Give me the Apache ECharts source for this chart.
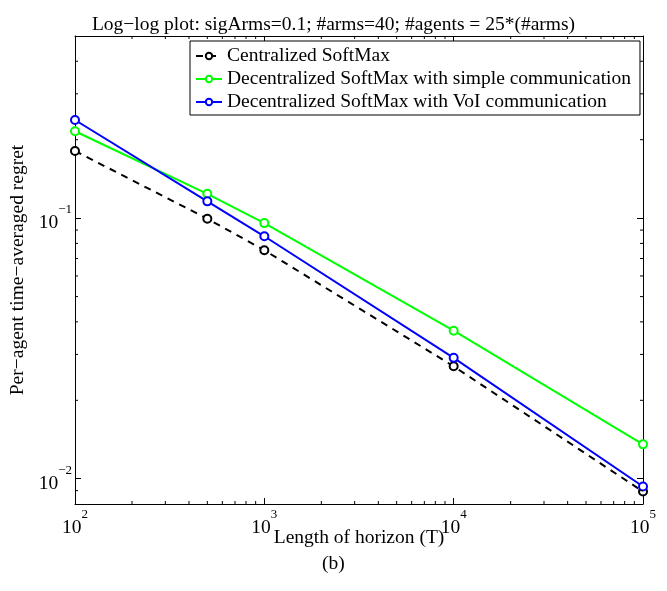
<!DOCTYPE html>
<html><head><meta charset="utf-8">
<script src="https://cdn.jsdelivr.net/npm/echarts@6/dist/echarts.min.js"></script>
<style>html,body{margin:0;padding:0;background:#fff}#c{width:667px;height:591px}</style>
</head><body><div id="c"></div>
<script>
const horizons = [100, 500, 1000, 10000, 100000];
const centralized = [0.181, 0.0995, 0.0753, 0.0270, 0.00893];
const decSimple = [0.2155, 0.124, 0.0957, 0.0370, 0.01355];
const decVoI = [0.238, 0.116, 0.0852, 0.0291, 0.00934];
const seriesNames = ['Centralized SoftMax', 'Decentralized SoftMax with simple communication', 'Decentralized SoftMax with VoI communication'];
const xMinorTicks = [200,300,400,500,600,700,800,900,2000,3000,4000,5000,6000,7000,8000,9000,20000,30000,40000,50000,60000,70000,80000,90000];
const yMinorTicks = [0.009,0.02,0.03,0.04,0.05,0.06,0.07,0.08,0.09,0.2,0.3,0.4];
const titleText = 'Log\u2212log plot: sigArms=0.1; #arms=40; #agents = 25*(#arms)';
const xName = 'Length of horizon (T)';
const yName = 'Per\u2212agent time\u2212averaged regret';
const captionText = '(b)';

const F = '"Liberation Serif","Times New Roman",serif';
const chart = echarts.init(document.getElementById('c'), null, {renderer:'canvas'});

function powLabel(v){
  const l = Math.log10(v);
  if (Math.abs(l - Math.round(l)) > 1e-6) return '';
  const e = Math.round(l);
  return '{b|10}{s|' + (e < 0 ? '\u2212' + (-e) : e) + '}';
}
const rich = {
  b:{fontFamily:F, fontSize:19.5, color:'#000', lineHeight:30, verticalAlign:'bottom'},
  s:{fontFamily:F, fontSize:13, color:'#000', lineHeight:14, verticalAlign:'top'}
};
const axisCommon = {
  type:'log', logBase:10,
  axisLine:{show:true, lineStyle:{color:'#000', width:1}},
  axisTick:{show:true, inside:true, length:6, lineStyle:{color:'#000'}},
  splitLine:{show:false}, minorTick:{show:false}
};
function mkLine(x1,y1,x2,y2){
  return {type:'line', shape:{x1,y1,x2,y2}, style:{stroke:'#000', lineWidth:1}};
}
const lineSeries = (name, data, color, dashed) => ({
  name, type:'line', data: horizons.map((h,i)=>[h, data[i]]),
  symbol:'emptyCircle', symbolSize:8, showSymbol:true,
  lineStyle:{color, width:2, type: dashed ? [7,6] : 'solid'},
  itemStyle:{color, borderColor:color, borderWidth:1.8},
  z:3, animation:false
});

chart.setOption({
  animation:false,
  backgroundColor:'#fff',
  title:[
    {text:titleText, left:'center', top:10, textStyle:{fontFamily:F, fontSize:19.5, fontWeight:'normal', color:'#000'}},
    {text:captionText, left:317, top:549, textStyle:{fontFamily:F, fontSize:19.5, fontWeight:'normal', color:'#000'}}
  ],
  grid:{left:72, right:24, top:36, bottom:87, containLabel:false},
  legend:{
    data:seriesNames, orient:'vertical', left:190, top:41,
    itemWidth:26, itemHeight:8, itemGap:1,
    padding:[4,9,2,5], borderColor:'#000', borderWidth:1, backgroundColor:'#fff',
    textStyle:{fontFamily:F, fontSize:19.5, color:'#000', lineHeight:22}
  },
  xAxis:[
    Object.assign({}, axisCommon, {min:100, max:100000, position:'bottom',
      name:xName, nameLocation:'middle', nameGap:24, nameMoveOverlap:false,
      nameTextStyle:{fontFamily:F, fontSize:19.5, color:'#000'},
      axisLabel:{formatter:powLabel, rich, margin:4, showMinLabel:true, showMaxLabel:true}}),
    Object.assign({}, axisCommon, {min:100, max:100000, position:'top', axisLabel:{show:false}})
  ],
  yAxis:[
    Object.assign({}, axisCommon, {min:0.008, max:0.5, position:'left',
      name:yName, nameLocation:'middle', nameGap:47, nameRotate:90, nameMoveOverlap:false,
      nameTextStyle:{fontFamily:F, fontSize:19.5, color:'#000'},
      axisLabel:{formatter:powLabel, rich, margin:3}}),
    Object.assign({}, axisCommon, {min:0.008, max:0.5, position:'right', axisLabel:{show:false}})
  ],
  series:[
    lineSeries(seriesNames[0], centralized, '#000000', true),
    lineSeries(seriesNames[1], decSimple, '#00ff00', false),
    lineSeries(seriesNames[2], decVoI, '#0000ff', false),
    {
      type:'custom', silent:true, data:[[100,0.01]], z:5, animation:false,
      renderItem(params, api){
        const cs = params.coordSys;
        const L = cs.x, R = cs.x + cs.width, T = cs.y, B = cs.y + cs.height;
        const children = [];
        xMinorTicks.forEach(v=>{
          const px = api.coord([v, 0.01])[0];
          children.push(mkLine(px,B,px,B-3), mkLine(px,T,px,T+3));
        });
        yMinorTicks.forEach(v=>{
          const py = api.coord([100, v])[1];
          children.push(mkLine(L,py,L+3,py), mkLine(R,py,R-3,py));
        });
        return {type:'group', children};
      }
    }
  ]
});
</script></body></html>
